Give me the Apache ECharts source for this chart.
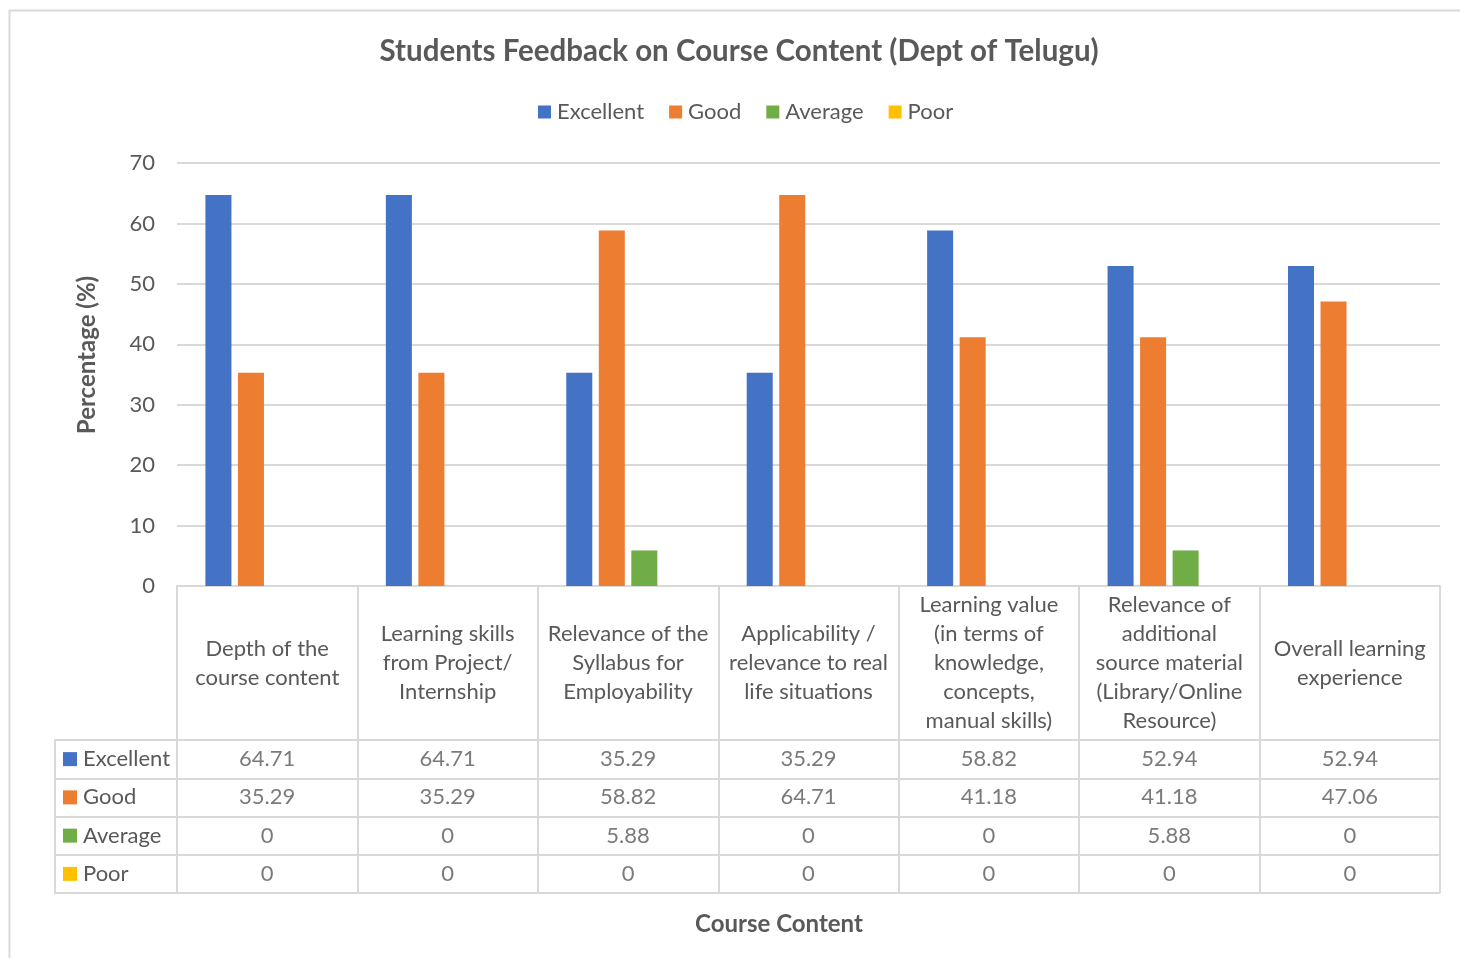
<!DOCTYPE html>
<html>
<head>
<meta charset="utf-8">
<script src="https://cdn.jsdelivr.net/npm/echarts@6/dist/echarts.min.js"></script>
<style>
  html, body { margin: 0; padding: 0; background: #fff; }
  #chart { width: 1460px; height: 958px; }
</style>
</head>
<body>
<div id="chart"></div>
<script>
// categories (x axis / table columns)
const categories = [
  'Depth of the\ncourse content',
  'Learning skills\nfrom Project/\nInternship',
  'Relevance of the\nSyllabus for\nEmployability',
  'Applicability /\nrelevance to real\nlife situations',
  'Learning value\n(in terms of\nknowledge,\nconcepts,\nmanual skills)',
  'Relevance of\nadditional\nsource material\n(Library/Online\nResource)',
  'Overall learning\nexperience'
];
const seriesNames = ['Excellent', 'Good', 'Average', 'Poor'];
const excellent = [64.71, 64.71, 35.29, 35.29, 58.82, 52.94, 52.94];
const good      = [35.29, 35.29, 58.82, 64.71, 41.18, 41.18, 47.06];
const average   = [0, 0, 5.88, 0, 0, 5.88, 0];
const poor      = [0, 0, 0, 0, 0, 0, 0];
const colors = ['#4472c4', '#ed7d31', '#70ad47', '#ffc000'];

const allValues = [excellent, good, average, poor];
const font = 'Lato';
const txt = '#595959';
const lineCol = '#d9d9d9';
const fs = 22;

// table cells: [column, row, value]
const cellData = [];
allValues.forEach((arr, r) => {
  arr.forEach((v, c) => cellData.push([c, r, v]));
});

// row header labels with coloured markers
const rich = {};
seriesNames.forEach((n, i) => {
  rich['m' + i] = { width: 14, height: 14, backgroundColor: colors[i] };
});
rich.t = { fontFamily: font, fontSize: fs, color: txt, padding: [0, 0, 0, 6] };

const myChart = echarts.init(document.getElementById('chart'));

const option = {
  backgroundColor: '#fff',
  textStyle: { fontFamily: font },
  legend: {
    data: seriesNames,
    left: 533, top: 96,
    icon: 'rect', itemWidth: 13, itemHeight: 13, itemGap: 25,
    textStyle: { fontFamily: font, fontSize: fs, color: txt, padding: [0, 0, 0, 1] }
  },
  graphic: [
    {
      type: 'rect', silent: true, z: -1,
      shape: { x: 9.5, y: 10.5, width: 1470, height: 970 },
      style: { fill: 'none', stroke: lineCol, lineWidth: 2 }
    },
    {
      type: 'text', silent: true, x: 739, y: 51,
      style: {
        text: 'Students Feedback on Course Content (Dept of Telugu)',
        align: 'center', verticalAlign: 'middle',
        font: 'bold 29.5px Lato', fill: txt
      }
    },
    {
      type: 'text', silent: true, x: 779, y: 924,
      style: {
        text: 'Course Content', align: 'center', verticalAlign: 'middle',
        font: 'bold 24px Lato', fill: txt
      }
    },
    {
      type: 'text', silent: true, x: 87, y: 355, rotation: Math.PI / 2,
      style: {
        text: 'Percentage (%)', align: 'center', verticalAlign: 'middle',
        font: 'bold 24px Lato', fill: txt
      }
    }
  ],
  grid: [
    { left: 177, top: 163, width: 1263, height: 423 },
    { left: 177, top: 740, width: 1263, height: 153 }
  ],
  xAxis: [
    {
      type: 'category', gridIndex: 0, data: categories,
      axisLine: { lineStyle: { color: lineCol, width: 2 } },
      axisTick: { show: true, length: 154, inside: false, lineStyle: { color: lineCol, width: 2 } },
      axisLabel: {
        interval: 0, margin: 77, verticalAlign: 'middle', lineHeight: 29,
        fontFamily: font, fontSize: fs, color: txt
      }
    },
    {
      type: 'category', gridIndex: 1, data: categories,
      axisLine: { show: false },
      axisTick: { show: false },
      axisLabel: { show: false },
      splitLine: { show: true, interval: 0, lineStyle: { color: lineCol, width: 2 } }
    }
  ],
  yAxis: [
    {
      type: 'value', gridIndex: 0, min: 0, max: 70, interval: 10,
      axisLine: { show: false },
      axisTick: { show: false },
      axisLabel: { margin: 22, fontFamily: font, fontSize: fs, color: txt },
      splitLine: { lineStyle: { color: lineCol, width: 2 } }
    },
    {
      type: 'category', gridIndex: 1, data: seriesNames, inverse: true,
      axisLine: { show: false },
      axisTick: { show: true, length: 122, interval: 0, lineStyle: { color: lineCol, width: 2 } },
      axisLabel: {
        interval: 0, align: 'left', margin: 114,
        formatter: (v, i) => '{m' + i + '|}{t|' + v + '}',
        rich: rich
      },
      splitLine: { show: true, interval: 0, lineStyle: { color: lineCol, width: 2 } }
    },
    {
      type: 'category', gridIndex: 1, data: seriesNames, inverse: true,
      position: 'left', offset: 122,
      axisLine: { show: true, lineStyle: { color: lineCol, width: 2 } },
      axisTick: { show: false },
      axisLabel: { show: false }
    }
  ],
  series: seriesNames.map((name, i) => ({
    name: name,
    type: 'bar',
    xAxisIndex: 0, yAxisIndex: 0,
    data: allValues[i],
    barGap: '25%',
    barCategoryGap: '31.5%',
    itemStyle: { color: colors[i] },
    silent: true
  })).concat([{
    name: 'table',
    type: 'scatter',
    xAxisIndex: 1, yAxisIndex: 1,
    data: cellData,
    symbol: 'rect', symbolSize: 1,
    itemStyle: { color: 'rgba(0,0,0,0)' },
    silent: true,
    label: {
      show: true, position: 'inside',
      formatter: p => String(p.value[2]),
      fontFamily: font, fontSize: fs, color: txt
    }
  }])
};

myChart.setOption(option);
</script>
</body>
</html>
